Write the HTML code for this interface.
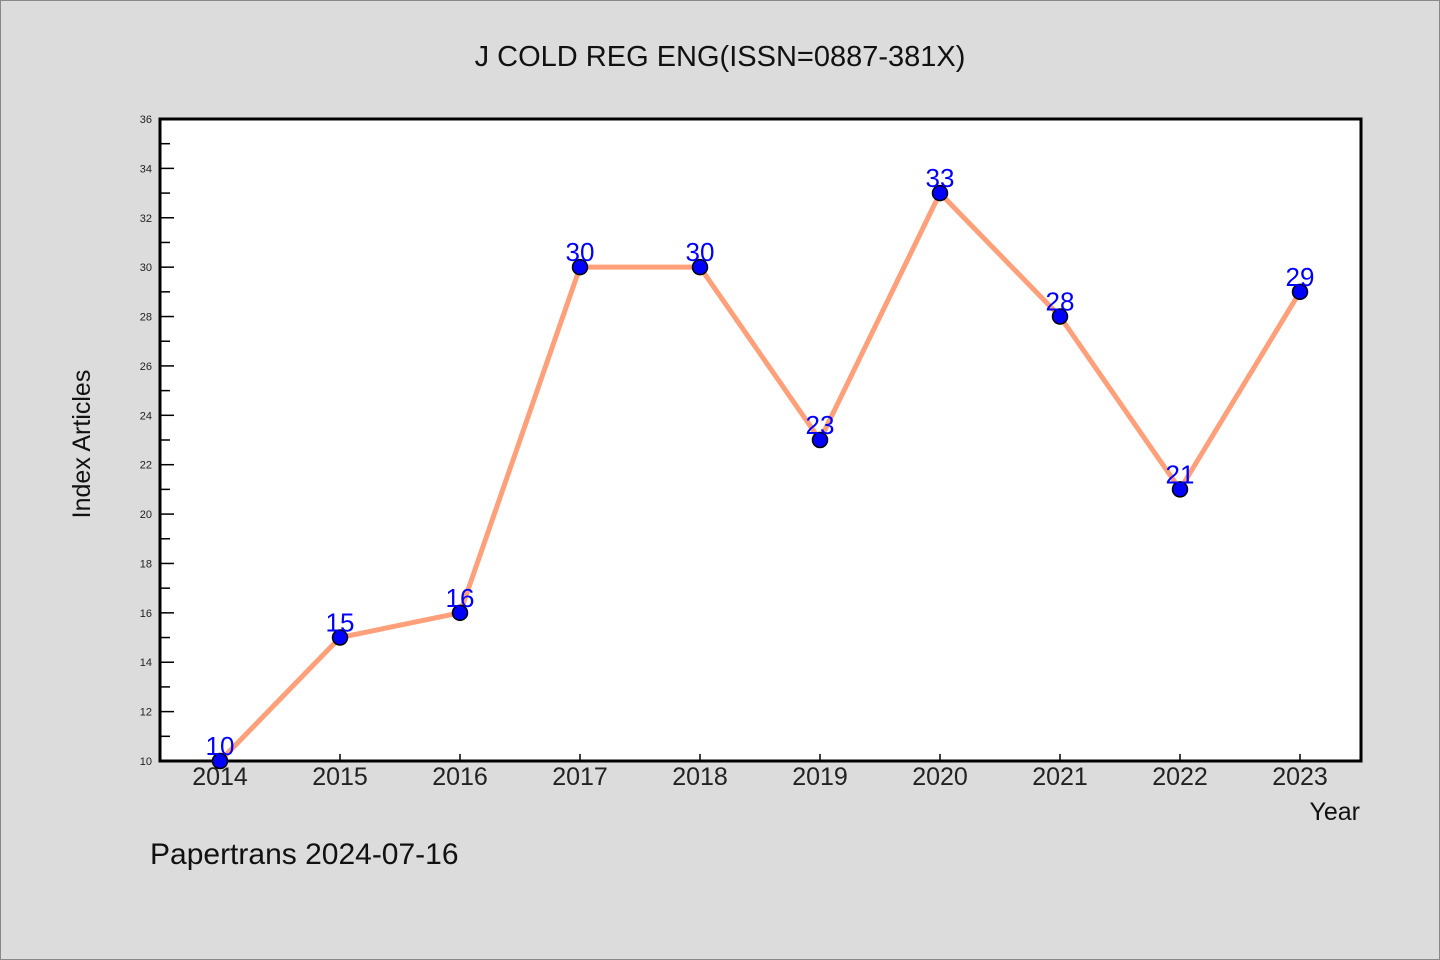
<!DOCTYPE html>
<html><head><meta charset="utf-8"><style>
body{margin:0;background:#dcdcdc;}
svg{display:block;font-family:"WenQuanYi Zen Hei","Liberation Sans",sans-serif;}
</style></head><body>
<svg id="chart" width="1440" height="960" xmlns="http://www.w3.org/2000/svg">
<rect x="0.5" y="0.5" width="1439" height="959" fill="#dcdcdc" stroke="#888"/>
<text x="720" y="66" text-anchor="middle" font-size="29" fill="#111">J COLD REG ENG(ISSN=0887-381X)</text>
<rect x="160" y="119" width="1201" height="642" fill="#fff" stroke="#000" stroke-width="3"/>
<g id="yticks"></g><g id="xticks"></g>
<polyline id="line" fill="none" stroke="#ffa07a" stroke-width="5" stroke-linejoin="round"/>
<g id="points"></g>
<text transform="translate(90,444) rotate(-90)" text-anchor="middle" font-size="25" fill="#111">Index Articles</text>
<text x="1360" y="820" text-anchor="end" font-size="25" fill="#111">Year</text>
<text x="150" y="864" font-size="30" fill="#111">Papertrans 2024-07-16</text>
</svg>
<script>
const years=[2014,2015,2016,2017,2018,2019,2020,2021,2022,2023];
const values=[10,15,16,30,30,23,33,28,21,29];
const yTicks=[10,12,14,16,18,20,22,24,26,28,30,32,34,36];
const NS="http://www.w3.org/2000/svg";
const y=v=>761-(v-10)*(642/26);
const x=yr=>220+(yr-2014)*120;
function mk(tag,attrs,parent){const e=document.createElementNS(NS,tag);for(const k in attrs)e.setAttribute(k,attrs[k]);parent.appendChild(e);return e;}
const yt=document.getElementById('yticks');
for(let v=10;v<=36;v++){
  const major=yTicks.includes(v);
  const t=mk('line',{x1:161,x2:161+(major?13:9),y1:y(v),y2:y(v),stroke:'#000','stroke-width':1.5},yt);
  
  
}
yTicks.forEach(v=>{
  const t=mk('text',{x:152,y:y(v)+4,'text-anchor':'end','font-size':11,fill:'#222'},yt);
  t.textContent=v;
  
  
});
const xt=document.getElementById('xticks');
years.forEach(yr=>{
  const l=mk('line',{x1:x(yr),x2:x(yr),y1:760,y2:754,stroke:'#000','stroke-width':1.5},xt);
  
  
  const t=mk('text',{x:x(yr),y:785,'text-anchor':'middle','font-size':25,fill:'#222'},xt);
  t.textContent=yr;
  
  
});
document.getElementById('line').setAttribute('points',years.map((yr,i)=>x(yr)+','+y(values[i])).join(' '));
const pts=document.getElementById('points');
years.forEach((yr,i)=>{
  const c=mk('circle',{cx:x(yr),cy:y(values[i]),r:7.5,fill:'#0000ff',stroke:'#000','stroke-width':1.5},pts);
  
  
  const t=mk('text',{x:x(yr),y:y(values[i])-6,'text-anchor':'middle','font-size':26,fill:'#0000ff'},pts);
  t.textContent=values[i];
  
  
});
</script>
</body></html>
